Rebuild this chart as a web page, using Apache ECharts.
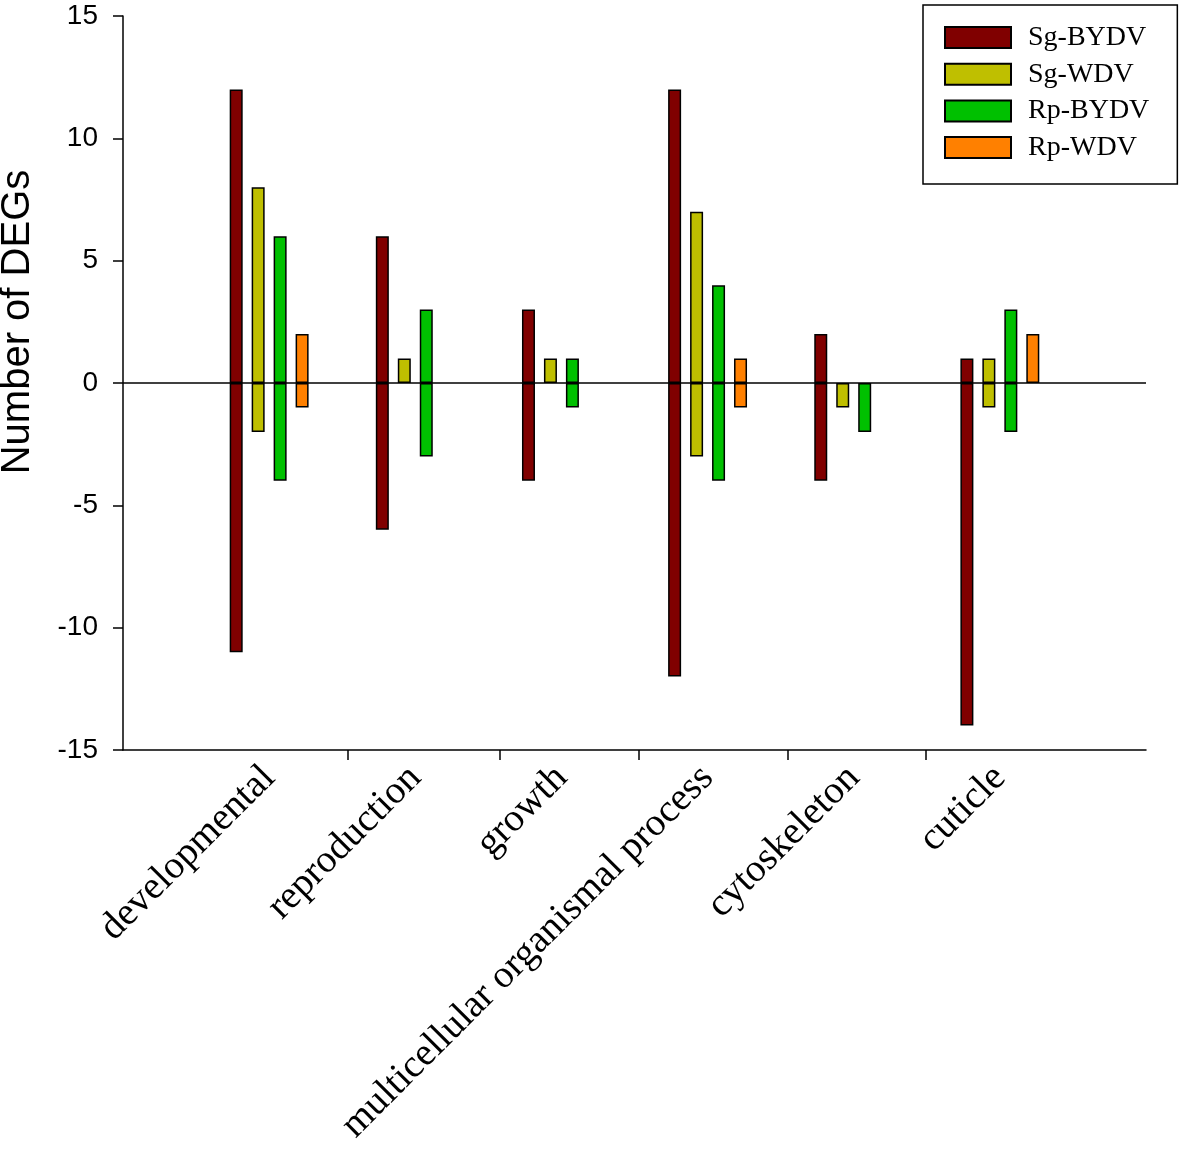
<!DOCTYPE html>
<html><head><meta charset="utf-8">
<script src="https://cdn.jsdelivr.net/npm/echarts@6/dist/echarts.min.js"></script>
<style>html,body{margin:0;padding:0;background:#fff}#chart{width:1181px;height:1151px}</style>
</head><body><div id="chart"></div>
<script>
const categories = ['developmental','reproduction','growth','multicellular organismal process','cytoskeleton','cuticle'];
const seriesNames = ['Sg-BYDV','Sg-WDV','Rp-BYDV','Rp-WDV'];
const sgBydvUp   = [12, 6, 3, 12, 2, 1];
const sgBydvDown = [-11, -6, -4, -12, -4, -14];
const sgWdvUp    = [8, 1, 1, 7, 0, 1];
const sgWdvDown  = [-2, 0, 0, -3, -1, -1];
const rpBydvUp   = [6, 3, 1, 4, 0, 3];
const rpBydvDown = [-4, -3, -1, -4, -2, -2];
const rpWdvUp    = [2, null, null, 1, null, 2];
const rpWdvDown  = [-1, null, null, -1, null, 0];
const yMin = -15, yMax = 15, yStep = 5;

const colors = ['#800000', '#BFBF00', '#00C000', '#FF8000'];
const ups = [sgBydvUp, sgWdvUp, rpBydvUp, rpWdvUp];
const downs = [sgBydvDown, sgWdvDown, rpBydvDown, rpWdvDown];
const axisCats = [''].concat(categories, ['']);
const prep = arr => ['-'].concat(arr.map(v => (v === null || v === 0) ? '-' : v), ['-']);

const series = [];
seriesNames.forEach((name, i) => {
  const base = {
    name: name, type: 'bar', stack: 's' + i, barWidth: 13, barGap: '69%',
    xAxisIndex: 0, yAxisIndex: 0,
    itemStyle: {color: colors[i], borderColor: '#000', borderWidth: 1.5},
    emphasis: {disabled: true}, animation: false
  };
  series.push(Object.assign({}, base, {data: prep(ups[i])}));
  series.push(Object.assign({}, base, {data: prep(downs[i])}));
});
series[0].markLine = {
  silent: true, symbol: ['none','none'], animation: false,
  label: {show: false},
  lineStyle: {color: '#000', width: 1.5, type: 'solid'},
  data: [{yAxis: 0}]
};

const chart = echarts.init(document.getElementById('chart'), null, {renderer: 'canvas'});
chart.setOption({
  animation: false,
  grid: {left: 123, right: 35, top: 16, bottom: 401, containLabel: false, outerBoundsMode: 'none'},
  legend: {
    data: seriesNames, orient: 'vertical', left: 923, top: 5,
    icon: 'rect',
    itemWidth: 66, itemHeight: 21, itemGap: 6.7,
    padding: [17.5, 28, 21.5, 21],
    borderColor: '#000', borderWidth: 1.5, backgroundColor: '#fff',
    selectedMode: false,
    textStyle: {fontFamily: 'Liberation Serif, Times New Roman, serif', fontSize: 28, color: '#000', lineHeight: 30, padding: [0,0,0,12]}
  },
  xAxis: [{
    type: 'category', data: axisCats, boundaryGap: false, position: 'bottom',
    axisLine: {onZero: false, lineStyle: {color: '#000', width: 1.5}},
    axisTick: {show: false}, splitLine: {show: false},
    axisLabel: {
      interval: 0, rotate: 45, margin: 22, verticalAlign: 'middle', align: 'right', lineHeight: 39,
      fontFamily: 'Liberation Serif, Times New Roman, serif', fontSize: 39, color: '#000'
    }
  }, {
    type: 'value', min: 0, max: 7, position: 'bottom',
    axisLine: {show: false, onZero: false},
    axisTick: {show: true, length: 10, inside: false, customValues: [1.54, 2.58, 3.53, 4.55, 5.49], lineStyle: {color: '#000', width: 1.5}},
    axisLabel: {show: false}, splitLine: {show: false}
  }],
  yAxis: [{
    type: 'value', min: yMin, max: yMax, interval: yStep,
    name: 'Number of DEGs', nameLocation: 'middle', nameRotate: 90, nameGap: 85,
    nameTextStyle: {fontFamily: 'Liberation Sans, Arial, sans-serif', fontSize: 40, color: '#000', padding: [0, 0, 0, 122]},
    axisLine: {show: true, lineStyle: {color: '#000', width: 1.5}},
    axisTick: {show: true, length: 10, inside: false, lineStyle: {color: '#000', width: 1.5}},
    axisLabel: {margin: 25, fontFamily: 'Liberation Sans, Arial, sans-serif', fontSize: 28, color: '#000'},
    splitLine: {show: false}
  }],
  series: series
});
</script></body></html>
